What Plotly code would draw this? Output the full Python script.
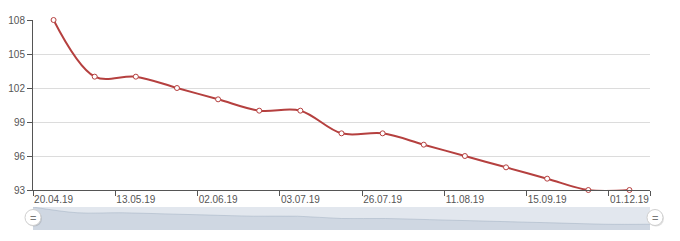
import plotly.graph_objects as go

dates = ["20.04.19", "01.05.19", "13.05.19", "23.05.19", "02.06.19", "15.06.19",
         "03.07.19", "14.07.19", "26.07.19", "03.08.19", "11.08.19", "25.08.19",
         "15.09.19", "01.10.19", "01.12.19"]
values = [108, 103, 103, 102, 101, 100, 100, 98, 98, 97, 96, 95, 94, 93, 93]
y_ticks = [93, 96, 99, 102, 105, 108]

idx = list(range(len(dates)))
label_idx = idx[::2]

LINE = "#b5403f"
AXIS = "#555555"
FONT = dict(family="Liberation Sans, Arial, sans-serif", size=10, color="#555555")

fig = go.Figure()
fig.add_trace(go.Scatter(
    x=idx, y=values, mode="lines+markers",
    line=dict(color=LINE, width=2, shape="spline", smoothing=1.0),
    marker=dict(size=5, color="white", line=dict(color=LINE, width=1)),
    cliponaxis=False, hoverinfo="skip", xaxis="x", yaxis="y",
))
# data shadow in the zoom slider
fig.add_trace(go.Scatter(
    x=idx, y=values, mode="lines", fill="tozeroy",
    line=dict(color="rgba(150,165,185,0.6)", width=0.7, shape="spline", smoothing=1.0),
    fillcolor="#cfd7e2", hoverinfo="skip", xaxis="x2", yaxis="y2",
))

n = len(dates)
fig.update_layout(
    width=680, height=241,
    margin=dict(l=33, r=30, t=20, b=11, autoexpand=False),
    paper_bgcolor="white", plot_bgcolor="white",
    showlegend=False, font=FONT,
    xaxis=dict(
        domain=[0, 1], anchor="y", automargin=False,
        range=[-0.5, n - 0.5], tickmode="array", tickvals=label_idx,
        ticktext=[dates[i] for i in label_idx], ticks="",
        showline=True, linecolor=AXIS, linewidth=1, showgrid=False, zeroline=False,
        minor=dict(tickmode="array", tickvals=[i - 0.5 for i in range(0, n, 2)] + [n - 0.5],
                   ticks="outside", ticklen=5, tickcolor=AXIS, tickwidth=1, showgrid=False),
        tickfont=FONT,
    ),
    yaxis=dict(
        domain=[40 / 210, 1], anchor="x", automargin=False,
        range=[93, 108], tickmode="array", tickvals=y_ticks,
        ticks="outside", ticklen=5, tickcolor=AXIS,
        showline=True, linecolor=AXIS, linewidth=1,
        showgrid=True, gridcolor="#dcdcdc", zeroline=False, tickfont=FONT,
    ),
    xaxis2=dict(domain=[0, 1], anchor="y2", range=[0, n - 1], visible=False, automargin=False),
    yaxis2=dict(domain=[0, 23 / 210], anchor="x2", range=[88, 108], visible=False, automargin=False),
    shapes=[
        dict(type="rect", xref="paper", yref="y2 domain", x0=0, x1=1, y0=0, y1=1,
             fillcolor="#e2e7ee", line=dict(width=0), layer="below"),
        dict(type="circle", xref="paper", yref="y2 domain", xsizemode="pixel", ysizemode="pixel",
             xanchor=0.0, yanchor=0.5, x0=-7, x1=9, y0=-8, y1=8,
             fillcolor="rgba(0,0,0,0.12)", line=dict(width=0)),
        dict(type="circle", xref="paper", yref="y2 domain", xsizemode="pixel", ysizemode="pixel",
             xanchor=0.0, yanchor=0.5, x0=-8, x1=8, y0=-7, y1=9,
             fillcolor="white", line=dict(color="#cfcfcf", width=1)),
        dict(type="circle", xref="paper", yref="y2 domain", xsizemode="pixel", ysizemode="pixel",
             xanchor=1.0, yanchor=0.5, x0=-2, x1=14, y0=-8, y1=8,
             fillcolor="rgba(0,0,0,0.12)", line=dict(width=0)),
        dict(type="circle", xref="paper", yref="y2 domain", xsizemode="pixel", ysizemode="pixel",
             xanchor=1.0, yanchor=0.5, x0=-3, x1=13, y0=-7, y1=9,
             fillcolor="white", line=dict(color="#cfcfcf", width=1)),
    ],
    annotations=[
        dict(text="=", xref="paper", yref="y2 domain", x=0, y=0.5, yshift=1, showarrow=False,
             font=dict(family="Liberation Sans, Arial", size=11, color="#777777"),
             xanchor="center", yanchor="middle"),
        dict(text="=", xref="paper", yref="y2 domain", x=1, y=0.5, xshift=5, yshift=1, showarrow=False,
             font=dict(family="Liberation Sans, Arial", size=11, color="#777777"),
             xanchor="center", yanchor="middle"),
    ],
)

fig.write_html("out.html")
